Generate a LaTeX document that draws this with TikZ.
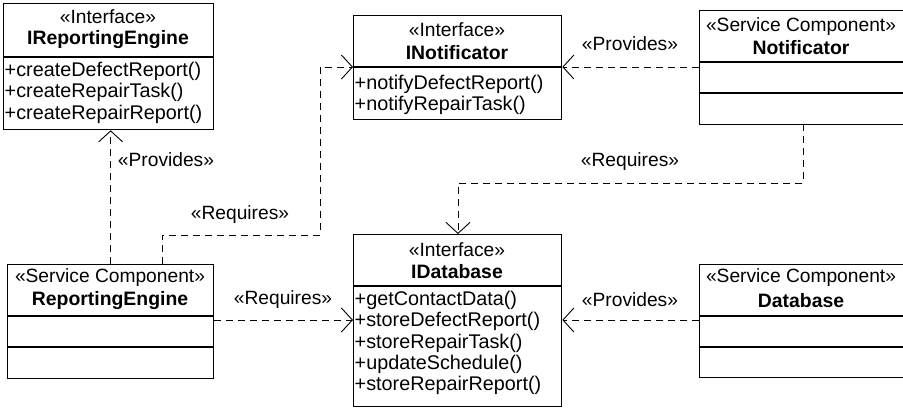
\documentclass[tikz,border=0pt]{standalone}
\usepackage{fontspec}
\setmainfont{Liberation Sans}
\usetikzlibrary{arrows.meta}
\begin{document}
\begin{tikzpicture}[x=1pt,y=-1pt,
  box/.style={draw,line width=1.3pt,inner sep=0pt,anchor=north west},
  sep/.style={line width=1.3pt},
  txt/.style={inner sep=0pt,font=\fontsize{19.2}{21.5}\selectfont},
  bold/.style={txt,font=\fontsize{19.4}{21.5}\selectfont\bfseries},
  op/.style={inner sep=0pt,anchor=west,font=\fontsize{19.8}{21.5}\selectfont},
  lbl/.style={txt},
  dep/.style={line width=0.9pt,dash pattern=on 7pt off 5pt,
    -{Straight Barb[length=11pt,width=24pt,line width=0.9pt]}}
]
\useasboundingbox (0,0) rectangle (903,409);

% interface IReportingEngine
\node[box,minimum width=210pt,minimum height=126pt] (ire) at (3,3) {};
\draw[sep] (ire.west |- 0,57) -- (ire.east |- 0,57);
\node[txt]  (ireS) at (108,17) {«Interface»};
\node[bold] (ireN) at (108,40) {IReportingEngine};
\node[op] (ire1) at (4.5,71)  {+createDefectReport()};
\node[op] (ire2) at (4.5,92.5) {+createRepairTask()};
\node[op] (ire3) at (4.5,114) {+createRepairReport()};

% interface INotificator
\node[box,minimum width=208pt,minimum height=104pt] (inot) at (353,15) {};
\draw[sep] (inot.west |- 0,67) -- (inot.east |- 0,67);
\node[txt]  (inotS) at (457,30) {«Interface»};
\node[bold] (inotN) at (457,53) {INotificator};
\node[op] (inot1) at (354.5,84)  {+notifyDefectReport()};
\node[op] (inot2) at (354.5,105.5) {+notifyRepairTask()};

% service component Notificator
\node[box,minimum width=206pt,minimum height=114pt] (not) at (699,10) {};
\draw[sep] (not.west |- 0,62) -- (not.east |- 0,62);
\draw[sep] (not.west |- 0,93) -- (not.east |- 0,93);
\node[txt]  (notS) at (801,27) {«Service Component»};
\node[bold] (notN) at (801,48) {Notificator};

% service component ReportingEngine
\node[box,minimum width=206pt,minimum height=114pt] (re) at (7,264) {};
\draw[sep] (re.west |- 0,316) -- (re.east |- 0,316);
\draw[sep] (re.west |- 0,347) -- (re.east |- 0,347);
\node[txt]  (reS) at (110,278) {«Service Component»};
\node[bold] (reN) at (110,301) {ReportingEngine};

% interface IDatabase
\node[box,minimum width=208pt,minimum height=172pt] (idb) at (353,234) {};
\draw[sep] (idb.west |- 0,286) -- (idb.east |- 0,286);
\node[txt]  (idbS) at (457,250) {«Interface»};
\node[bold] (idbN) at (457,272) {IDatabase};
\node[op] (idb1) at (354.5,300) {+getContactData()};
\node[op] (idb2) at (354.5,321.5) {+storeDefectReport()};
\node[op] (idb3) at (354.5,343) {+storeRepairTask()};
\node[op] (idb4) at (354.5,364) {+updateSchedule()};
\node[op] (idb5) at (354.5,385.5) {+storeRepairReport()};

% service component Database
\node[box,minimum width=206pt,minimum height=113pt] (db) at (699,264) {};
\draw[sep] (db.west |- 0,316) -- (db.east |- 0,316);
\draw[sep] (db.west |- 0,347) -- (db.east |- 0,347);
\node[txt]  (dbS) at (801,278) {«Service Component»};
\node[bold] (dbN) at (801,301) {Database};

% bend points of the routed dependencies
\coordinate (reUp)   at (162,264);
\coordinate (reBend1) at (162,235);
\coordinate (reBend2) at (320,235);
\coordinate (reBend3) at (320,67);
\coordinate (notDown) at (803,124);
\coordinate (notBend1) at (803,183);
\coordinate (notBend2) at (458,183);

% dependencies
\draw[dep] (not.west |- 0,67) -- (inot.east |- 0,67);
\node[lbl] (l1) at (630,44) {«Provides»};

\draw[dep] (notDown) -- (notBend1) -- (notBend2) -- (notBend2 |- idb.north);
\node[lbl] (l2) at (630,162) {«Requires»};

\draw[dep] (re.north) -- (re.north |- ire.south);
\node[lbl] (l3) at (166,160) {«Provides»};

\draw[dep] (reUp) -- (reBend1) -- (reBend2) -- (reBend3) -- (inot.west |- 0,67);
\node[lbl] (l4) at (240,215) {«Requires»};

\draw[dep] (re.east |- 0,320) -- (idb.west |- 0,320);
\node[lbl] (l5) at (283,300) {«Requires»};

\draw[dep] (db.west |- 0,320) -- (idb.east |- 0,320);
\node[lbl] (l6) at (630,300) {«Provides»};
\end{tikzpicture}
\end{document}
